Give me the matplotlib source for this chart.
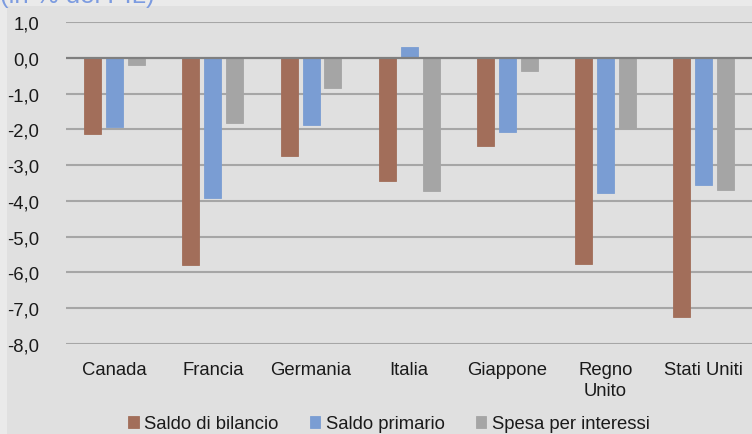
import matplotlib
matplotlib.use("Agg")
import matplotlib.pyplot as plt
import numpy as np
from matplotlib.patches import Rectangle
from matplotlib.ticker import FixedLocator

categories = ["Canada", "Francia", "Germania", "Italia", "Giappone", "Regno\nUnito", "Stati Uniti"]
saldo_bilancio = [-2.14, -5.79, -2.75, -3.45, -2.47, -5.76, -7.25]
saldo_primario = [-1.93, -3.93, -1.88, 0.31, -2.08, -3.78, -3.56]
spesa_interessi = [-0.21, -1.83, -0.85, -3.73, -0.36, -1.97, -3.70]
series_names = ["Saldo di bilancio", "Saldo primario", "Spesa per interessi"]
yticks = [1, 0, -1, -2, -3, -4, -5, -6, -7, -8]
title = "(in % del PIL)"

colors = ["#A26E5A", "#7A9DD3", "#A5A5A5"]
plt.rcParams['font.family'] = ['Liberation Sans', 'DejaVu Sans']
fs = 13.3

fig = plt.figure(figsize=(7.52, 4.35), dpi=100)
fig.patch.set_facecolor("#EAEAEA")
fig.patches.append(Rectangle((7/752, 0), 1, 1 - 7/435, transform=fig.transFigure,
                             facecolor="#E0E0E0", edgecolor="none", zorder=-5))

ax = fig.add_axes([65.6/752, 1 - 345/435, 1 - 65.6/752 + 0.001, (345 - 23)/435])
ax.set_zorder(2)
ax.set_facecolor("none")

x = np.arange(len(categories))
w = 0.173
off = 0.223
for i, (vals, name) in enumerate(zip([saldo_bilancio, saldo_primario, spesa_interessi], series_names)):
    ax.bar(x + (i - 1) * off, vals, width=w, color=colors[i], label=name, zorder=3,
           edgecolor=colors[i], linewidth=0.6)

ax.set_xlim(-0.5, len(categories) - 0.5)
ax.set_ylim(-8, 1)
ax.yaxis.set_major_locator(FixedLocator(yticks))
ax.set_yticklabels([f"{v:.1f}".replace(".", ",") if v != 0 else "0,0" for v in yticks])
for v in yticks:
    if v == 0:
        continue
    ax.axhline(v, color="#A6A6A6", linewidth=1.5, zorder=1)
ax.axhline(0, color="#7F7F7F", linewidth=1.6, zorder=4)

ax.set_xticks(x)
ax.set_xticklabels(categories, fontsize=fs, color="#1A1A1A", linespacing=1.25)
ax.tick_params(axis='x', length=0, pad=12.5)
ax.tick_params(axis='y', length=0, pad=19, labelsize=fs, labelcolor="#1A1A1A")
for s in ax.spines.values():
    s.set_visible(False)

leg = fig.legend(loc="center", bbox_to_anchor=(389/752, 1 - 425/435), ncol=3, frameon=False,
                 fontsize=fs, handlelength=0.55, handleheight=0.55, handletextpad=0.3,
                 columnspacing=1.7, borderpad=0)
for t in leg.get_texts():
    t.set_color("#1A1A1A")

fig.text(0.0, 1 - 3.5/435, title, fontsize=18.5, color="#7C9BE0",
         ha="left", va="baseline")

fig.savefig("out.png", dpi=100, facecolor=fig.get_facecolor())
